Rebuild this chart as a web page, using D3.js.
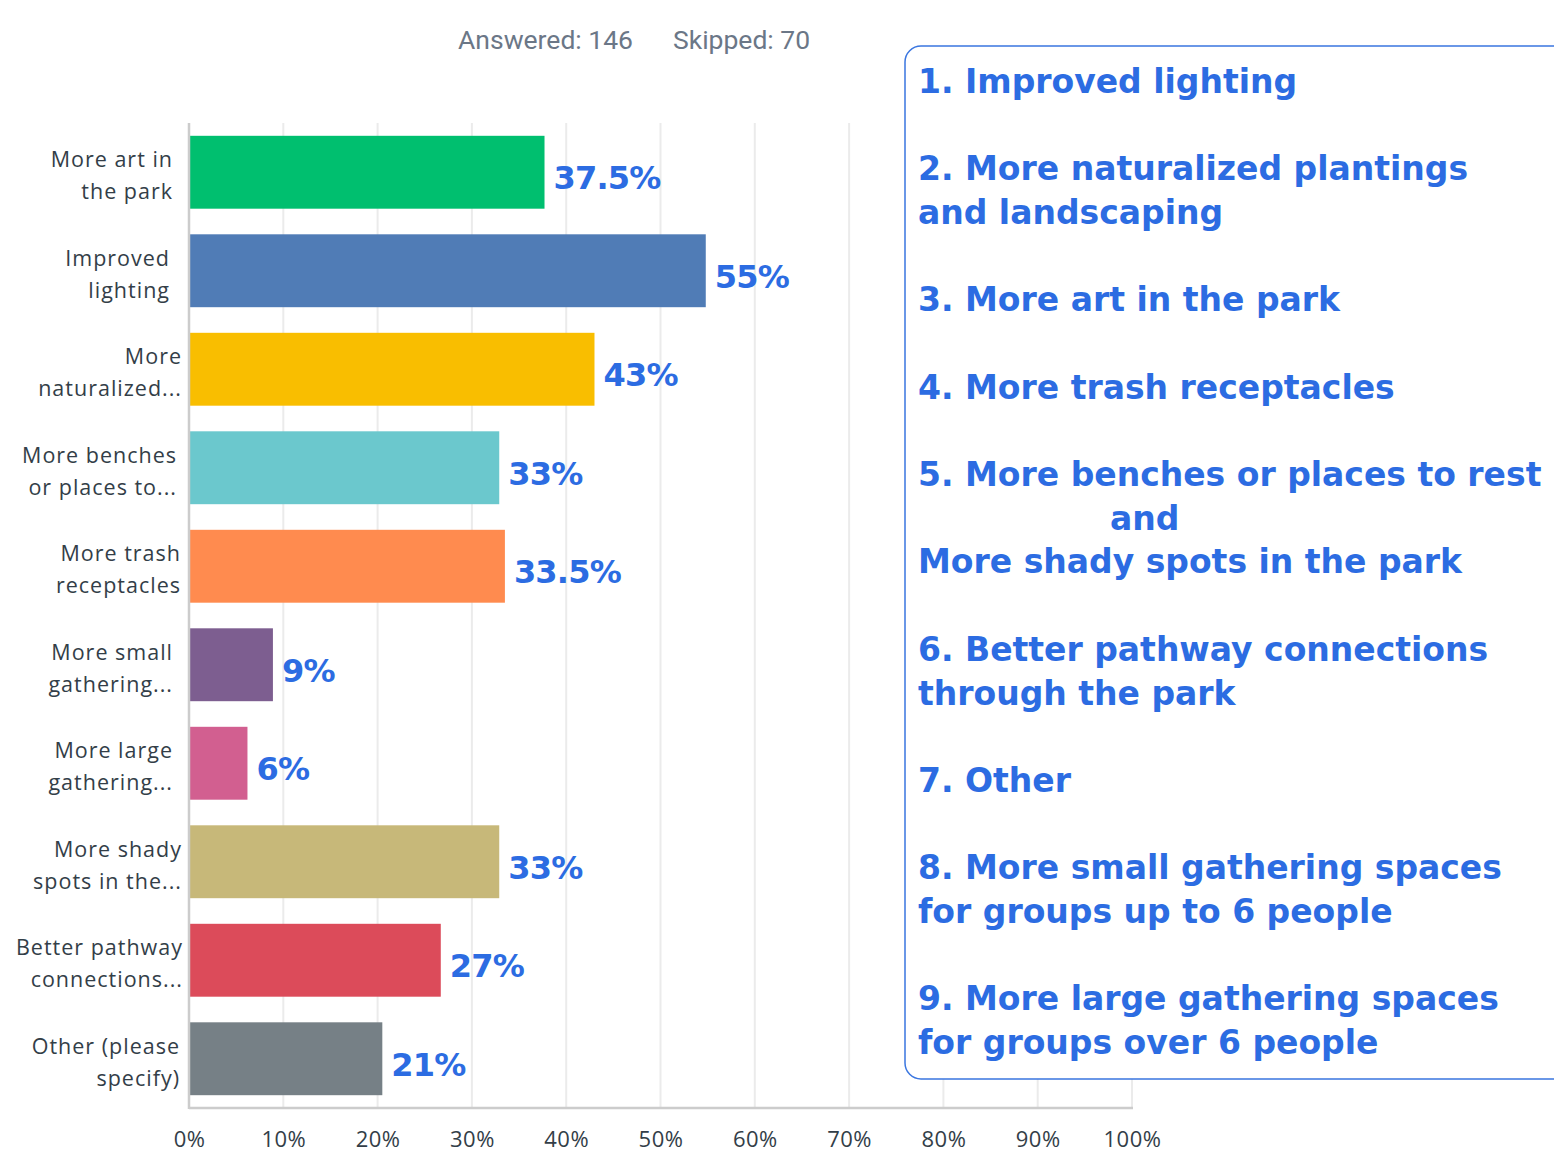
<!DOCTYPE html>
<html>
<head>
<meta charset="utf-8">
<script src="https://cdn.jsdelivr.net/npm/d3@7"></script>
<style>
  body { margin: 0; background: #fff; }
  svg { display: block; }
</style>
</head>
<body>
<svg></svg>
<script>
// data
const categories = [
  'More art in the park', 'Improved lighting', 'More naturalized...', 'More benches or places to...',
  'More trash receptacles', 'More small gathering...', 'More large gathering...',
  'More shady spots in the...', 'Better pathway connections...', 'Other (please specify)'
];
const labelLines = [
  ['More art in', 'the park'], ['Improved', 'lighting'], ['More', 'naturalized...'],
  ['More benches', 'or places to...'], ['More trash', 'receptacles'], ['More small', 'gathering...'],
  ['More large', 'gathering...'], ['More shady', 'spots in the...'], ['Better pathway', 'connections...'],
  ['Other (please', 'specify)']
];
const values = [37.7, 54.8, 43.0, 32.9, 33.5, 8.9, 6.2, 32.9, 26.7, 20.5];
const valueLabels = ['37.5%', '55%', '43%', '33%', '33.5%', '9%', '6%', '33%', '27%', '21%'];
const colors = ['#00bf6f', '#507cb6', '#f9be00', '#6bc8cd', '#ff8b4f', '#7d5e90', '#d25f90', '#c7b879', '#dc4b5a', '#768086'];
const ticks = [0, 10, 20, 30, 40, 50, 60, 70, 80, 90, 100];
const answered = 'Answered: 146';
const skipped = 'Skipped: 70';
const rankLines = [
  '1. Improved lighting', '',
  '2. More naturalized plantings', 'and landscaping', '',
  '3. More art in the park', '',
  '4. More trash receptacles', '',
  '5. More benches or places to rest', 'and', 'More shady spots in the park', '',
  '6. Better pathway connections', 'through the park', '',
  '7. Other', '',
  '8. More small gathering spaces', 'for groups up to 6 people', '',
  '9. More large gathering spaces', 'for groups over 6 people'
];

const svg = d3.select('svg').attr('width', 1554).attr('height', 1154);
const margin = { top: 123, left: 189 };
const width = 943, height = 985;
const blue = '#2c6ce2';
const textGray = '#333e48';

const x = d3.scaleLinear().domain([0, 100]).range([0, width]);
const y = d3.scaleBand().domain(categories).range([0, height])
  .paddingInner(0.26).paddingOuter(0.13);

svg.append('g').attr('fill', '#6b7787').style('font-family', 'Roboto, sans-serif').style('font-size', '26.5px')
  .selectAll('text').data([answered, skipped]).enter().append('text')
  .attr('x', (d, i) => i === 0 ? 633 : 673)
  .attr('y', 49)
  .attr('text-anchor', (d, i) => i === 0 ? 'end' : 'start')
  .text(d => d);

const g = svg.append('g').attr('transform', `translate(${margin.left},${margin.top})`);

// grid
g.append('g').selectAll('line').data(ticks.slice(1)).enter().append('line')
  .attr('x1', d => x(d)).attr('x2', d => x(d))
  .attr('y1', 0).attr('y2', height)
  .attr('stroke', '#ebebeb').attr('stroke-width', 2);

// bars
g.selectAll('.bar').data(categories).enter().append('rect')
  .attr('class', 'bar')
  .attr('x', 1)
  .attr('y', d => y(d))
  .attr('width', (d, i) => x(values[i]) - 1)
  .attr('height', y.bandwidth())
  .attr('fill', (d, i) => colors[i]);

// axes lines
g.append('line').attr('x1', 0).attr('x2', 0).attr('y1', 0).attr('y2', height + 1)
  .attr('stroke', '#cccccc').attr('stroke-width', 2.5);
g.append('line').attr('x1', 0).attr('x2', width + 1).attr('y1', height).attr('y2', height)
  .attr('stroke', '#cccccc').attr('stroke-width', 2.5);

// x tick labels
const xAxis = g.append('g').attr('transform', `translate(0,${height})`)
  .call(d3.axisBottom(x).tickValues(ticks).tickFormat(d => d + '%').tickSize(0).tickPadding(23));
xAxis.select('.domain').remove();
xAxis.selectAll('text').attr('fill', textGray).style('font-family', '"Open Sans", sans-serif')
  .style('font-size', '22px').style('letter-spacing', '0.5px');

// category labels (right edges in the original are a little ragged)
const labelShift = [-7, -10, 2, -3, 1, -7, -7, 2, 3, 0];
const lab = g.append('g').attr('fill', textGray)
  .style('font-family', '"Open Sans", sans-serif').style('font-size', '21.5px').style('letter-spacing', '1px');
categories.forEach((c, i) => {
  const cy = y(c) + y.bandwidth() / 2;
  const lx = -9 + labelShift[i];
  lab.append('text').attr('text-anchor', 'end')
    .selectAll('tspan').data(labelLines[i]).enter().append('tspan')
    .attr('x', lx)
    .attr('y', (d, j) => cy - 5 + j * 32)
    .text(d => d);
});

// value labels
g.append('g').attr('fill', blue)
  .style('font-family', '"DejaVu Sans", sans-serif').style('font-weight', 'bold').style('font-size', '32px')
  .style('letter-spacing', '-0.8px')
  .selectAll('text').data(categories).enter().append('text')
  .attr('x', (d, i) => x(values[i]) + 9)
  .attr('y', d => y(d) + y.bandwidth() / 2 + 17)
  .text((d, i) => valueLabels[i]);

// ranking box
svg.append('rect')
  .attr('x', 905).attr('y', 46).attr('width', 680).attr('height', 1033)
  .attr('rx', 16).attr('fill', '#fff').attr('stroke', '#3a76e0').attr('stroke-width', 1.5);

const rank = svg.append('g').attr('fill', blue)
  .style('font-family', '"DejaVu Sans", sans-serif').style('font-weight', 'bold').style('font-size', '33px');
rankLines.forEach((t, i) => {
  if (!t) return;
  rank.append('text')
    .attr('x', t === 'and' ? 1110 : 918)
    .attr('y', 93 + i * 43.68)
    .text(t);
});
</script>
</body>
</html>
